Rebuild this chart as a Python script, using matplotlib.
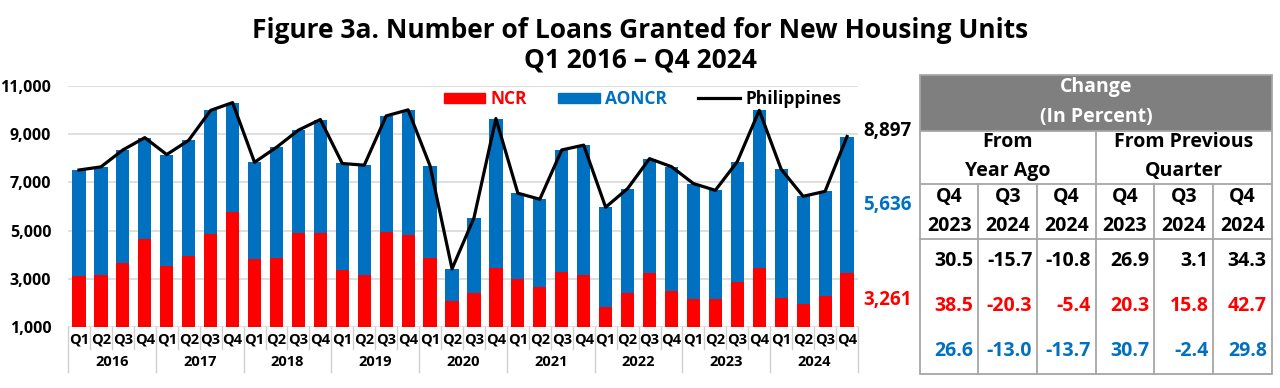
import matplotlib.pyplot as plt
from matplotlib.patches import Patch, Rectangle
from matplotlib.lines import Line2D
import numpy as np

plt.rcParams["font.family"] = ["Open Sans", "DejaVu Sans"]
plt.rcParams["font.weight"] = "bold"

years = ["2016", "2017", "2018", "2019", "2020", "2021", "2022", "2023", "2024"]
quarters = ["Q1", "Q2", "Q3", "Q4"]

ncr = [3130, 3150, 3650, 4640, 3540, 3950, 4860, 5790,
       3830, 3880, 4890, 4900, 3360, 3170, 4930, 4840,
       3880, 2080, 2430, 3470, 2990, 2660, 3290, 3170,
       1830, 2430, 3250, 2489, 2160, 2160, 2867, 3447,
       2230, 1973, 2285, 3261]
aoncr = [4380, 4490, 4690, 4210, 4610, 4790, 5120, 4510,
         4000, 4570, 4270, 4700, 4420, 4540, 4820, 5160,
         3800, 1340, 3100, 6170, 3560, 3640, 5050, 5370,
         4140, 4310, 4730, 5159, 4790, 4510, 4991, 6531,
         5310, 4449, 4342, 5636]
philippines = [7510, 7640, 8340, 8850, 8150, 8740, 9980, 10300,
               7830, 8450, 9160, 9600, 7780, 7710, 9750, 10000,
               7680, 3420, 5530, 9640, 6550, 6300, 8340, 8540,
               5970, 6740, 7980, 7648, 6950, 6670, 7858, 9978,
               7540, 6422, 6627, 8897]

tbl_cols = ["Q4\n2023", "Q3\n2024", "Q4\n2024", "Q4\n2023", "Q3\n2024", "Q4\n2024"]
tbl_phil = ["30.5", "-15.7", "-10.8", "26.9", "3.1", "34.3"]
tbl_ncr = ["38.5", "-20.3", "-5.4", "20.3", "15.8", "42.7"]
tbl_aoncr = ["26.6", "-13.0", "-13.7", "30.7", "-2.4", "29.8"]

RED = "#FF0000"
BLUE = "#0070C0"
GRID = "#D9D9D9"

W, H = 1280, 388
fig = plt.figure(figsize=(W / 100, H / 100), dpi=100)

# main chart axes, placed in pixel terms
left, right, top, bottom = 68, 858, 85.7, 327.3
ax = fig.add_axes([left / W, 1 - bottom / H, (right - left) / W, (bottom - top) / H])

x = np.arange(len(ncr))
ax.bar(x, ncr, width=0.6, color=RED, zorder=2)
ax.bar(x, aoncr, width=0.6, bottom=ncr, color=BLUE, zorder=2)
ax.plot(x, philippines, color="black", lw=2.3, zorder=3)

ax.set_xlim(-0.5, len(ncr) - 0.5)
ax.set_ylim(1000, 11000)
ax.set_yticks(range(1000, 11001, 2000))
ax.set_yticklabels([f"{v:,}" for v in range(1000, 11001, 2000)], fontsize=11.5, fontweight="bold")
ax.yaxis.grid(True, color=GRID, lw=1.2, zorder=0)
ax.tick_params(axis="y", length=0, pad=12)
for s in ax.spines.values():
    s.set_visible(False)

ax.set_xticks(x)
ax.set_xticklabels(quarters * len(years), fontsize=10.5, fontweight="bold")
ax.tick_params(axis="x", length=0, pad=4)

trans = ax.get_xaxis_transform()
for k in range(len(ncr) + 1):
    depth = -0.186 if k % 4 == 0 else -0.091
    ax.add_line(Line2D([k - 0.5, k - 0.5], [0, depth], transform=trans,
                       color="#D0D0D0", lw=1, clip_on=False))
for i, yr in enumerate(years):
    ax.text(i * 4 + 1.5, -0.145, yr, transform=trans, ha="center", va="center",
            fontsize=10.5, fontweight="bold")

handles = [Patch(color=RED, label="NCR"), Patch(color=BLUE, label="AONCR"),
           Line2D([], [], color="black", lw=2.3, label="Philippines")]
leg = ax.legend(handles=handles, ncol=3, frameon=False, loc="center",
                bbox_to_anchor=(0.727, 0.945), fontsize=12.5, handlelength=2.4,
                handleheight=0.5, handletextpad=0.3, columnspacing=1.8)
for t, c in zip(leg.get_texts(), [RED, BLUE, "black"]):
    t.set_color(c)
    t.set_fontweight("bold")

# end-of-series labels
last = len(ncr) - 1
lx = 1.068
ax.annotate(f"{philippines[last]:,}", xy=(lx, philippines[last]),
            xycoords=("axes fraction", "data"), xytext=(0, 4), textcoords="offset points",
            ha="right", va="center", fontsize=13.5, fontweight="bold", color="black",
            annotation_clip=False)
ax.annotate(f"{aoncr[last]:,}", xy=(lx, ncr[last] + aoncr[last] / 2),
            xycoords=("axes fraction", "data"), ha="right", va="center",
            fontsize=13.5, fontweight="bold", color=BLUE, annotation_clip=False)
ax.annotate(f"{ncr[last]:,}", xy=(lx, 1000 + (ncr[last] - 1000) / 2),
            xycoords=("axes fraction", "data"), ha="right", va="center",
            fontsize=13.5, fontweight="bold", color=RED, annotation_clip=False)

fig.text(0.5, 1 - 30 / H, "Figure 3a. Number of Loans Granted for New Housing Units",
         ha="center", va="center", fontsize=19, fontweight="bold")
fig.text(0.5, 1 - 60 / H, "Q1 2016 \u2013 Q4 2024", ha="center", va="center",
         fontsize=19, fontweight="bold")

# change table, drawn on an overlay in pixel coordinates
tax = fig.add_axes([0, 0, 1, 1])
tax.set_xlim(0, W)
tax.set_ylim(H, 0)
tax.axis("off")

cx = [920, 978.3, 1037.3, 1095.7, 1154.3, 1213.3, 1271.7]
ry = [75, 130.7, 184.3, 239.3, 374]
BORDER = "#A6A6A6"
FS = 14

tax.add_patch(Rectangle((cx[0], ry[0]), cx[-1] - cx[0], ry[1] - ry[0],
                        facecolor="#7F7F7F", edgecolor="none"))
tax.add_patch(Rectangle((cx[0], ry[0]), cx[-1] - cx[0], ry[-1] - ry[0],
                        facecolor="none", edgecolor=BORDER, lw=1.3))
for yy in ry[1:4]:
    tax.plot([cx[0], cx[-1]], [yy, yy], color=BORDER, lw=1.3)
tax.plot([cx[3], cx[3]], [ry[1], ry[-1]], color=BORDER, lw=1.3)
for xx in cx[1:3] + cx[4:6]:
    tax.plot([xx, xx], [ry[2], ry[-1]], color=BORDER, lw=1.3)

mid = (cx[0] + cx[-1]) / 2
tax.text(mid, 87.3, "Change", ha="center", va="center", color="white",
         fontsize=FS, fontweight="bold")
tax.text(mid, 117.3, "(In Percent)", ha="center", va="center", color="white",
         fontsize=FS, fontweight="bold")
tax.text((cx[0] + cx[3]) / 2, 141.7, "From", ha="center", va="center", fontsize=FS, fontweight="bold")
tax.text((cx[0] + cx[3]) / 2, 171, "Year Ago", ha="center", va="center", fontsize=FS, fontweight="bold")
tax.text((cx[3] + cx[6]) / 2, 141.7, "From Previous", ha="center", va="center", fontsize=FS, fontweight="bold")
tax.text((cx[3] + cx[6]) / 2, 171, "Quarter", ha="center", va="center", fontsize=FS, fontweight="bold")

for j, lab in enumerate(tbl_cols):
    q, yr = lab.split("\n")
    cmid = (cx[j] + cx[j + 1]) / 2
    tax.text(cmid, 196.7, q, ha="center", va="center", fontsize=FS, fontweight="bold")
    tax.text(cmid, 225.7, yr, ha="center", va="center", fontsize=FS, fontweight="bold")

for vals, yy, col in [(tbl_phil, 260.7, "black"), (tbl_ncr, 306, RED), (tbl_aoncr, 351, BLUE)]:
    for j, v in enumerate(vals):
        tax.text(cx[j + 1] - 5, yy, v, ha="right", va="center", fontsize=FS,
                 fontweight="bold", color=col)

fig.savefig("out.png", dpi=100, facecolor="white")
